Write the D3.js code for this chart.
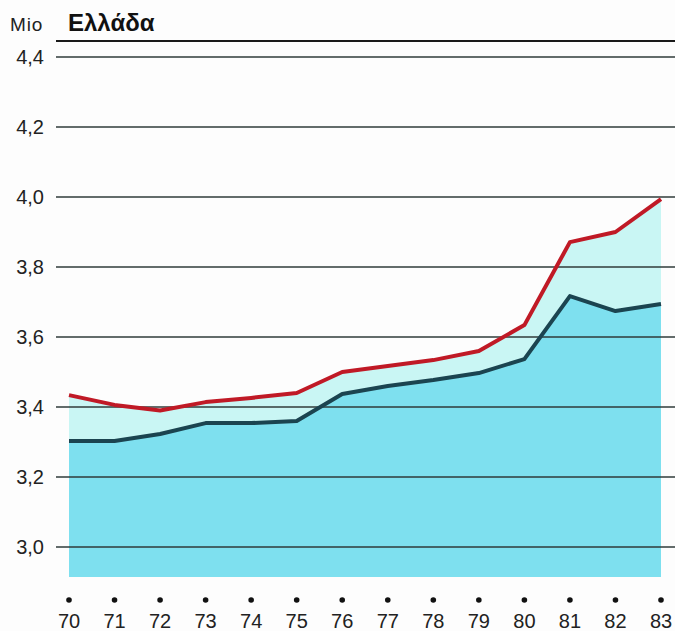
<!DOCTYPE html>
<html>
<head>
<meta charset="utf-8">
<script src="https://cdn.jsdelivr.net/npm/d3@7"></script>
<style>
  body { margin: 0; background: #fdfdfd; }
  svg { display: block; font-family: "Liberation Sans", Arial, sans-serif; }
</style>
</head>
<body>
<svg id="chart" width="675" height="631"></svg>
<script>
var years = ["70", "71", "72", "73", "74", "75", "76", "77", "78", "79", "80", "81", "82", "83"];
var totalValues = [3.434, 3.406, 3.39, 3.414, 3.426, 3.44, 3.50, 3.517, 3.534, 3.56, 3.634, 3.871, 3.90, 3.994];
var lowerValues = [3.303, 3.303, 3.323, 3.354, 3.354, 3.36, 3.437, 3.46, 3.477, 3.497, 3.537, 3.717, 3.674, 3.694];
var yTicks = [3.0, 3.2, 3.4, 3.6, 3.8, 4.0, 4.2, 4.4];

var svg = d3.select("#chart");

var x = d3.scalePoint()
    .domain(years)
    .range([69, 661]);

var y = d3.scaleLinear()
    .domain([3.0, 4.4])
    .range([547, 57]);

var areaBase = 2.914; // bottom of shaded region

var area = d3.area()
    .x(function(d, i) { return x(years[i]); })
    .y0(y(areaBase))
    .y1(function(d) { return y(d); });

svg.append("path")
    .datum(totalValues)
    .attr("fill", "#c9f6f4")
    .attr("d", area);

svg.append("path")
    .datum(lowerValues)
    .attr("fill", "#7ee0ef")
    .attr("d", area);

// gridlines
svg.append("g")
    .selectAll("line")
    .data(yTicks)
    .enter().append("line")
      .attr("x1", 56)
      .attr("x2", 675)
      .attr("y1", function(d) { return y(d); })
      .attr("y2", function(d) { return y(d); })
      .attr("stroke", "#2f3b3a")
      .attr("stroke-width", 1.3);

// top rule
svg.append("line")
    .attr("x1", 56)
    .attr("x2", 675)
    .attr("y1", 41)
    .attr("y2", 41)
    .attr("stroke", "#1a1a1a")
    .attr("stroke-width", 2);

var line = d3.line()
    .x(function(d, i) { return x(years[i]); })
    .y(function(d) { return y(d); });

svg.append("path")
    .datum(lowerValues)
    .attr("fill", "none")
    .attr("stroke", "#1b4450")
    .attr("stroke-width", 4)
    .attr("stroke-linejoin", "round")
    .attr("d", line);

svg.append("path")
    .datum(totalValues)
    .attr("fill", "none")
    .attr("stroke", "#c01a26")
    .attr("stroke-width", 4)
    .attr("stroke-linejoin", "round")
    .attr("d", line);

// y labels
svg.append("g")
    .selectAll("text")
    .data(yTicks)
    .enter().append("text")
      .attr("x", 44)
      .attr("y", function(d) { return y(d); })
      .attr("dy", "0.36em")
      .attr("text-anchor", "end")
      .attr("font-size", 20)
      .attr("fill", "#222")
      .text(function(d) { return d3.format(".1f")(d).replace(".", ","); });

// x dots + labels
var xg = svg.append("g")
    .selectAll("g")
    .data(years)
    .enter().append("g")
      .attr("transform", function(d) { return "translate(" + x(d) + ",0)"; });

xg.append("circle")
    .attr("cy", 600)
    .attr("r", 2.8)
    .attr("fill", "#111");

xg.append("text")
    .attr("y", 628)
    .attr("text-anchor", "middle")
    .attr("font-size", 20)
    .attr("fill", "#222")
    .text(function(d) { return d; });

svg.append("text")
    .attr("x", 10)
    .attr("y", 31)
    .attr("font-size", 19)
    .attr("letter-spacing", 0.8)
    .attr("fill", "#222")
    .text("Mio");

svg.append("text")
    .attr("x", 68)
    .attr("y", 31)
    .attr("font-size", 24)
    .attr("font-weight", "bold")
    .attr("fill", "#111")
    .text("Ελλάδα");
</script>
</body>
</html>
